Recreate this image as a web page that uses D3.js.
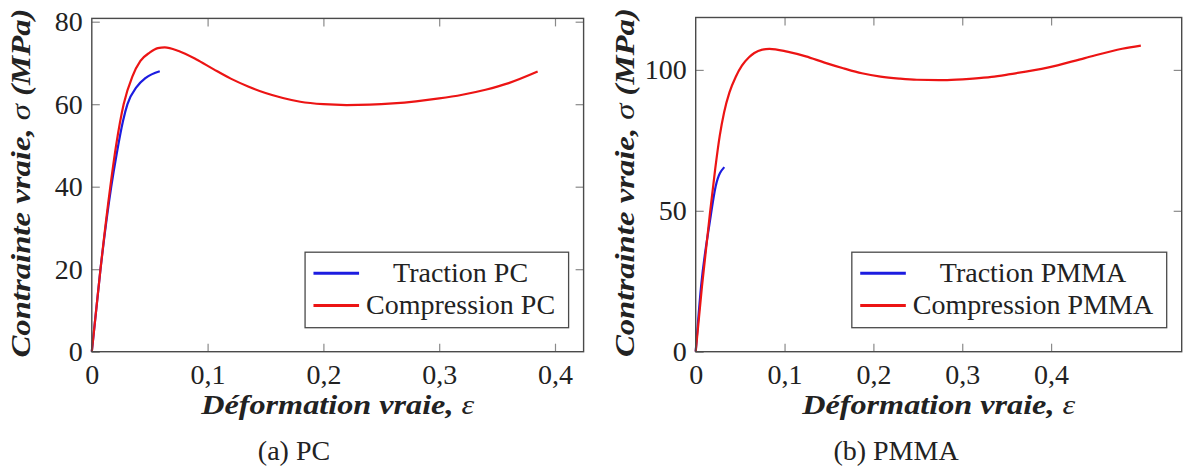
<!DOCTYPE html>
<html>
<head>
<meta charset="utf-8">
<script src="https://cdn.jsdelivr.net/npm/d3@7"></script>
<style>
  body { margin: 0; background: #fff; }
  svg text { font-family: 'Liberation Serif', 'DejaVu Serif', serif; fill: #222; }
</style>
</head>
<body>
<div id="chart"></div>
<script>
// ---- data ----
const xTicks = [0, 0.1, 0.2, 0.3, 0.4];
const xTickLabels = ['0', '0,1', '0,2', '0,3', '0,4'];
const pcYTicks = [0, 20, 40, 60, 80];
const pmmaYTicks = [0, 50, 100];

// (a) PC
const pcTractionStrain = [0, 0.0075, 0.0168, 0.0215, 0.027, 0.0308, 0.0388, 0.0466, 0.0587];
const pcTractionStress = [0, 20, 40, 48, 56, 60, 64.2, 66.4, 68.0];
const pcCompStrain = [0, 0.0075, 0.016, 0.021, 0.0275, 0.035, 0.042, 0.05, 0.057, 0.063, 0.075,
  0.09, 0.105, 0.12, 0.135, 0.15, 0.165, 0.18, 0.2, 0.22, 0.24, 0.26, 0.28, 0.30, 0.32, 0.34, 0.36, 0.385];
const pcCompStress = [0, 20, 40, 50, 60, 66.7, 70.5, 72.5, 73.6, 73.8, 72.9,
  70.9, 68.5, 66.2, 64.3, 62.7, 61.5, 60.6, 60.0, 59.8, 59.9, 60.2, 60.7, 61.4, 62.3, 63.5, 65.1, 67.9];

// (b) PMMA
const pmmaTractionStrain = [0, 0.006, 0.0161, 0.0225, 0.0322];
const pmmaTractionStress = [0, 23, 46.5, 58.7, 65.5];
const pmmaCompStrain = [0, 0.007, 0.016, 0.022, 0.027, 0.032, 0.038, 0.045, 0.052, 0.060, 0.066, 0.075, 0.083,
  0.103, 0.124, 0.145, 0.166, 0.187, 0.208, 0.229, 0.249, 0.283, 0.312, 0.333, 0.354, 0.396, 0.438, 0.480, 0.501];
const pmmaCompStress = [0, 23, 49, 65, 76.5, 85, 92, 97.5, 101.5, 104.5, 106, 107.2, 107.5,
  106.5, 104.8, 102.6, 100.6, 98.8, 97.6, 96.9, 96.5, 96.4, 96.9, 97.5, 98.5, 100.8, 104.2, 107.5, 108.6];

const BLUE = '#1c1ce0';
const RED = '#ec1414';
const FONT = 28;

const svg = d3.select('#chart').append('svg')
  .attr('width', 1184)
  .attr('height', 476);

function zip(xs, ys) {
  return xs.map((x, i) => ({x: x, y: ys[i]}));
}

function drawPanel(p) {
  let x = d3.scaleLinear().domain(p.xDomain).range([p.left, p.left + p.width]);
  let y = d3.scaleLinear().domain(p.yDomain).range([p.top + p.height, p.top]);
  let g = svg.append('g');

  // inward ticks on all four sides
  let tickStyle = sel => {
    sel.attr('font-family', null).attr('font-size', null);
    sel.select('.domain').remove();
    sel.selectAll('.tick line').attr('stroke', '#8a8a8a').attr('stroke-width', 1.2);
    sel.selectAll('.tick text').attr('font-size', FONT).attr('fill', '#222');
  };
  g.append('g')
    .attr('transform', `translate(0,${p.top + p.height})`)
    .call(d3.axisBottom(x).tickValues(xTicks).tickSize(-8).tickPadding(12)
      .tickFormat((d, i) => xTickLabels[i]))
    .call(tickStyle);
  g.append('g')
    .attr('transform', `translate(0,${p.top})`)
    .call(d3.axisTop(x).tickValues(xTicks.slice(1)).tickSize(-8).tickFormat(''))
    .call(tickStyle);
  g.append('g')
    .attr('transform', `translate(${p.left},0)`)
    .call(d3.axisLeft(y).tickValues(p.yTicks).tickSize(-8).tickPadding(9))
    .call(tickStyle);
  g.append('g')
    .attr('transform', `translate(${p.left + p.width},0)`)
    .call(d3.axisRight(y).tickValues(p.yTicks.slice(1)).tickSize(-8).tickFormat(''))
    .call(tickStyle);

  // curves
  let line = d3.line().x(d => x(d.x)).y(d => y(d.y)).curve(d3.curveMonotoneX);
  p.series.forEach(s => {
    g.append('path')
      .datum(zip(s.strain, s.stress))
      .attr('fill', 'none')
      .attr('stroke', s.color)
      .attr('stroke-width', 2.2)
      .attr('stroke-linejoin', 'round')
      .attr('d', line);
  });

  // frame
  g.append('rect')
    .attr('x', p.left).attr('y', p.top)
    .attr('width', p.width).attr('height', p.height)
    .attr('fill', 'none')
    .attr('stroke', '#4a4a4a')
    .attr('stroke-width', 1.4);

  // legend (sized from its texts)
  let lg = g.append('g');
  let texts = p.series.map(s => lg.append('text')
    .attr('font-size', FONT)
    .attr('text-anchor', 'middle')
    .text(s.name));
  let textW = d3.max(texts, t => t.node().getComputedTextLength());
  let legW = 8.4 + 45.6 + 7 + textW + 13.5;
  let legH = 75.5;
  let lx = p.left + p.width - 15 - legW;
  let ly = p.top + p.height - 24 - legH;
  lg.insert('rect', 'text')
    .attr('x', lx).attr('y', ly)
    .attr('width', legW).attr('height', legH)
    .attr('fill', '#fff')
    .attr('stroke', '#4a4a4a')
    .attr('stroke-width', 1.3);
  p.series.forEach((s, i) => {
    let rowY = ly + 21 + i * 32.3;
    lg.append('line')
      .attr('x1', lx + 8.4).attr('x2', lx + 54)
      .attr('y1', rowY).attr('y2', rowY)
      .attr('stroke', s.color)
      .attr('stroke-width', 3);
    texts[i]
      .attr('x', lx + 61 + textW / 2)
      .attr('y', rowY + 8.5)
      .raise();
  });

  // axis labels
  let xl = g.append('text')
    .attr('x', p.left + p.width / 2)
    .attr('y', 414)
    .attr('text-anchor', 'middle')
    .attr('font-size', FONT)
    .attr('textLength', 273)
    .attr('lengthAdjust', 'spacingAndGlyphs');
  xl.append('tspan').attr('font-weight', 'bold').attr('font-style', 'italic').text('Déformation vraie, ');
  xl.append('tspan').attr('font-style', 'italic').text('ε');

  let cy = p.top + p.height / 2 - 2;
  let yl = g.append('text')
    .attr('transform', `translate(${p.left - 62},${cy}) rotate(-90)`)
    .attr('text-anchor', 'middle')
    .attr('font-size', FONT)
    .attr('textLength', 349)
    .attr('lengthAdjust', 'spacingAndGlyphs');
  yl.append('tspan').attr('font-weight', 'bold').attr('font-style', 'italic').text('Contrainte vraie, ');
  yl.append('tspan').attr('font-style', 'italic').text('σ');
  yl.append('tspan').attr('font-weight', 'bold').attr('font-style', 'italic').text('  (MPa)');

  // caption
  g.append('text')
    .attr('x', p.captionX)
    .attr('y', 460)
    .attr('text-anchor', 'middle')
    .attr('font-size', FONT)
    .text(p.caption);
}

drawPanel({
  left: 91.8, top: 18.4, width: 491.8, height: 333.3,
  xDomain: [0, 0.4247], yDomain: [0, 80.8],
  yTicks: pcYTicks,
  series: [
    {name: 'Traction PC', color: BLUE, strain: pcTractionStrain, stress: pcTractionStress},
    {name: 'Compression PC', color: RED, strain: pcCompStrain, stress: pcCompStress}
  ],
  caption: '(a) PC', captionX: 294
});

drawPanel({
  left: 695.7, top: 17.5, width: 486, height: 334.2,
  xDomain: [0, 0.547], yDomain: [0, 118.6],
  yTicks: pmmaYTicks,
  series: [
    {name: 'Traction PMMA', color: BLUE, strain: pmmaTractionStrain, stress: pmmaTractionStress},
    {name: 'Compression PMMA', color: RED, strain: pmmaCompStrain, stress: pmmaCompStress}
  ],
  caption: '(b) PMMA', captionX: 896
});
</script>
</body>
</html>
